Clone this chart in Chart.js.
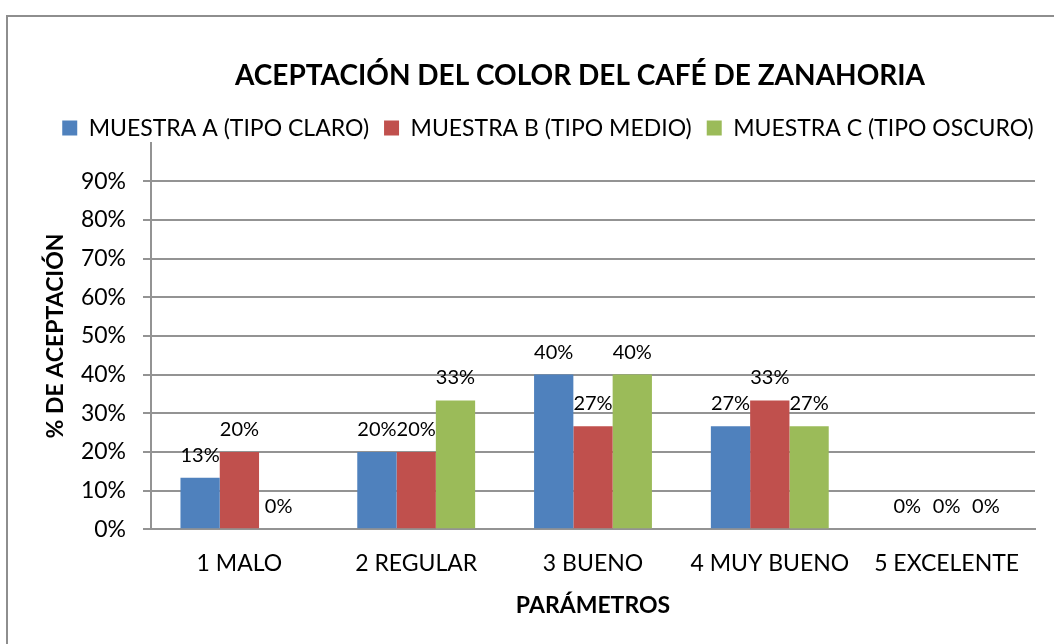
<!DOCTYPE html>
<html>
<head>
<meta charset="utf-8">
<script src="https://cdn.jsdelivr.net/npm/chart.js@4.4.1/dist/chart.umd.min.js"></script>
<style>
html,body{margin:0;padding:0;background:#fff;}
#frame{position:absolute;left:6px;top:15px;width:1200px;height:800px;border-left:2px solid #8e8e8e;border-top:2px solid #8e8e8e;box-sizing:border-box;}
#wrap{position:absolute;left:0;top:0;width:1054px;height:644px;}
</style>
</head>
<body>
<div id="frame"></div>
<div id="wrap"><canvas id="c" width="1054" height="644"></canvas></div>
<script>
const categories = ['1 MALO', '2 REGULAR', '3 BUENO', '4 MUY BUENO', '5 EXCELENTE'];
const seriesNames = ['MUESTRA A (TIPO CLARO)', 'MUESTRA B (TIPO MEDIO)', 'MUESTRA C (TIPO OSCURO)'];
const muestraA = [0.1333, 0.20, 0.40, 0.2667, 0];
const muestraB = [0.20, 0.20, 0.2667, 0.3333, 0];
const muestraC = [0, 0.3333, 0.40, 0.2667, 0];
const yTicks = [0, 0.1, 0.2, 0.3, 0.4, 0.5, 0.6, 0.7, 0.8, 0.9];
const titleText = 'ACEPTACIÓN DEL COLOR DEL CAFÉ DE ZANAHORIA';
const yTitle = '% DE ACEPTACIÓN';
const xTitle = 'PARÁMETROS';

const FONT = 'Lato';
const GRID = '#939393';

const dataLabelPlugin = {
  id: 'barValueLabels',
  afterDatasetsDraw(chart) {
    const ctx = chart.ctx;
    ctx.save();
    ctx.font = '20px ' + FONT;
    ctx.fillStyle = '#000';
    ctx.textAlign = 'center';
    ctx.textBaseline = 'alphabetic';
    chart.data.datasets.forEach((ds, di) => {
      const meta = chart.getDatasetMeta(di);
      meta.data.forEach((el, i) => {
        const v = ds.data[i];
        ctx.fillText(Math.round(v * 100) + '%', el.x, el.y - 16);
      });
    });
    ctx.restore();
  }
};

const shiftPlugin = {
  id: 'shiftBoxes',
  afterLayout(chart) {
    const t = chart.titleBlock, l = chart.legend;
    if (t) { const d = 580 - (t.left + t.right) / 2; t.left += d; t.right += d; t.top -= 2; t.bottom -= 2; }
    if (l) {
      const d = 548 - (l.left + l.right) / 2; l.left += d; l.right += d;
      l.top += 7; l.bottom += 7;
    }
  }
};

new Chart(document.getElementById('c'), {
  type: 'bar',
  data: {
    labels: categories,
    datasets: [
      { label: seriesNames[0], data: muestraA, backgroundColor: '#4F81BD' },
      { label: seriesNames[1], data: muestraB, backgroundColor: '#C0504D' },
      { label: seriesNames[2], data: muestraC, backgroundColor: '#9BBB59' }
    ]
  },
  options: {
    responsive: false,
    animation: false,
    events: [],
    layout: { padding: { left: 0, right: 19, top: 61, bottom: 0 } },
    datasets: { bar: { categoryPercentage: 3 / 4.5, barPercentage: 1.0 } },
    plugins: {
      title: {
        display: true, text: titleText, color: '#000',
        font: { family: FONT, size: 28, weight: 'bold' },
        padding: { top: 0, bottom: 0 }
      },
      legend: {
        display: true, position: 'top',
        labels: {
          color: '#000', boxWidth: 15, boxHeight: 15, padding: 15,
          font: { family: FONT, size: 23 }
        }
      },
      tooltip: { enabled: false }
    },
    scales: {
      x: {
        grid: { display: false, drawTicks: false },
        border: { display: true, color: GRID, width: 2 },
        ticks: { color: '#000', font: { family: FONT, size: 23 }, padding: 20, maxRotation: 0 },
        title: { display: true, text: xTitle, color: '#000', font: { family: FONT, size: 23, weight: 'bold' }, padding: { top: 0, bottom: 25 } },
        afterFit(s) { s.height = 644 - 529.3; }
      },
      y: {
        min: 0, max: 1,
        afterBuildTicks(s) { s.ticks = yTicks.map(v => ({ value: v })); },
        grid: { color: GRID, lineWidth: 2, tickLength: 8, drawTicks: true },
        border: { display: true, color: GRID, width: 2 },
        ticks: { color: '#000', font: { family: FONT, size: 23 }, padding: 17, callback: v => Math.round(v * 100) + '%' },
        title: { display: true, text: yTitle, color: '#000', font: { family: FONT, size: 23, weight: 'bold' }, padding: { top: 42, bottom: 0 } },
        afterFit(s) { s.width = 151; }
      }
    }
  },
  plugins: [dataLabelPlugin, shiftPlugin]
});
</script>
</body>
</html>
